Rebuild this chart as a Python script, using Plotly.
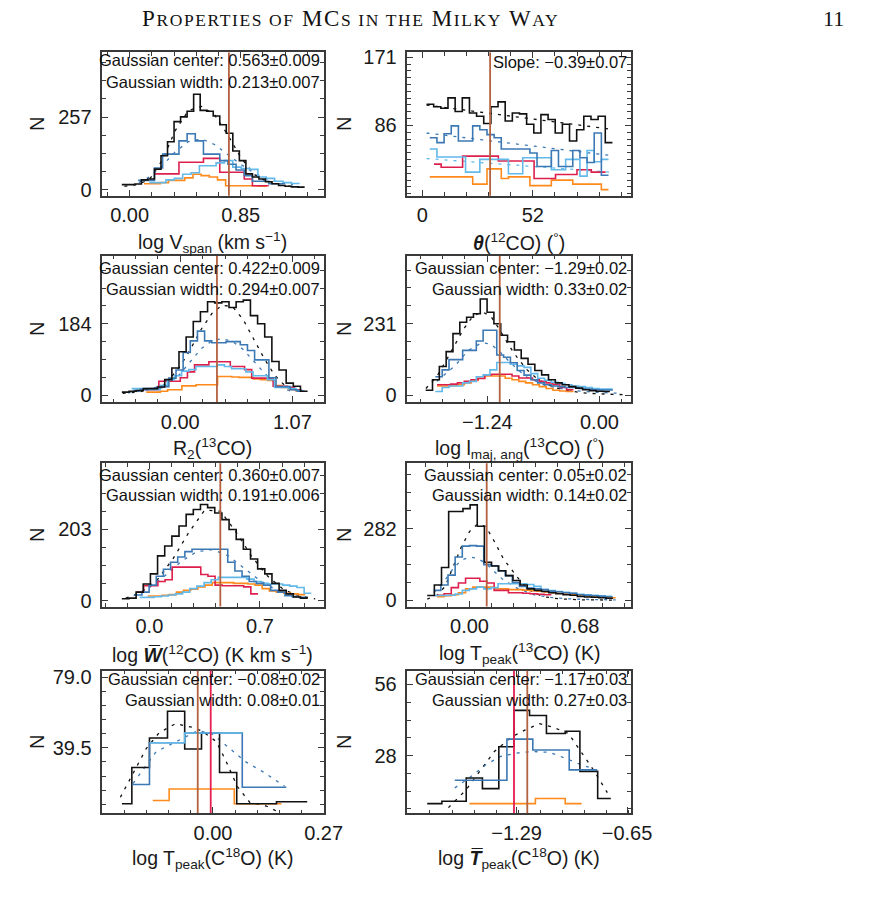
import numpy as np
import plotly.graph_objects as go

# ===================== DATA =====================
# ---- Panel 1: log V_span ----
VSPAN_BLACK_START, VSPAN_BLACK_BIN = -0.06, 0.05
VSPAN_BLACK = [18, 18, 20, 35, 38, 73, 120, 170, 241, 258, 278, 338, 281, 278, 261, 230, 200, 137, 103, 56, 45, 38, 28, 21, 15, 12, 10, 9]
VSPAN_BLUE_START, VSPAN_BLUE_BIN = 0.065, 0.0625
VSPAN_BLUE = [33, 33, 77, 126, 126, 173, 198, 173, 126, 126, 103, 90, 70, 50, 30, 30, 21, 21]
VSPAN_LBLUE_START, VSPAN_LBLUE_BIN = 0.15, 0.064
VSPAN_LBLUE = [25, 25, 35, 40, 55, 60, 85, 85, 95, 103, 80, 75, 72, 45, 40, 30, 25, 22]
VSPAN_RED_START, VSPAN_RED_BIN = 0.19, 0.0625
VSPAN_RED = [56, 56, 56, 97, 97, 97, 111, 111, 62, 62, 62, 38, 14, 14]
VSPAN_ORANGE_START, VSPAN_ORANGE_BIN = 0.11, 0.0625
VSPAN_ORANGE = [21, 21, 25, 33, 33, 42, 55, 50, 45, 35, 14, 14, 14, 14, 12]
VSPAN_FIT_X = [-0.04, 0.05, 0.15, 0.25, 0.35, 0.45, 0.55, 0.65, 0.75, 0.85, 0.95, 1.05, 1.15, 1.3]
VSPAN_FIT_Y = [12, 18, 35, 105, 210, 280, 295, 265, 195, 115, 55, 28, 16, 8]
VSPAN_BFIT_X = [0.07, 0.15, 0.25, 0.35, 0.45, 0.55, 0.65, 0.75, 0.85, 0.95, 1.05, 1.15, 1.25]
VSPAN_BFIT_Y = [25, 45, 85, 135, 170, 180, 160, 125, 90, 60, 38, 25, 18]
VSPAN_MARK = 0.76

# ---- Panel 2: theta(12CO) ----
THETA_BLACK_START, THETA_BIN = 1.99, 3.363
THETA_BLACK = [112, 109, 107, 120, 103, 120, 101, 97, 88, 109, 115, 91, 101, 100, 87, 76, 99, 93, 76, 87, 66, 80, 97, 93, 97, 64]
THETA_COLOR_START = 3.52
THETA_BLUE = [70, 64, 75, 85, 66, 66, 85, 80, 74, 70, 56, 56, 56, 56, 51, 34, 34, 54, 34, 34, 54, 45, 39, 76, 23]
THETA_LBLUE = [56, 46, 46, 46, 46, 27, 27, 43, 43, 43, 43, 25, 25, 45, 45, 45, 45, 30, 30, 43, 43, 22, 54, 40, 43]
THETA_ORANGE = [21, 21, 21, 21, 21, 21, 12, 12, 31, 31, 19, 21, 21, 21, 10, 10, 10, 17, 17, 17, 12, 12, 12, 12, 5]
THETA_RED_START = 5.50
THETA_RED = [37, 33, 33, 33, 47, 47, 47, 47, 47, 41, 41, 41, 41, 41, 19, 19, 19, 24, 24, 24, 30, 30, 27, 27]
THETA_FIT_X, THETA_FIT_Y = [2, 88], [111, 81]
THETA_BFIT_X, THETA_BFIT_Y = [2, 88], [76, 48]
THETA_LFIT_X, THETA_LFIT_Y = [2, 88], [44, 27]
THETA_MARK = 31.9

# ---- Panel 3: R2(13CO) ----
R2_BLACK_START, R2_BIN = -0.558, 0.0682
R2_BLACK = [8, 10, 12, 17, 17, 21, 40, 70, 112, 150, 190, 215, 241, 238, 241, 226, 241, 245, 205, 184, 150, 87, 65, 31, 23, 10]
R2_BLUE_START = -0.450
R2_BLUE = [12, 15, 17, 19, 22, 44, 65, 110, 140, 165, 140, 135, 135, 138, 138, 130, 115, 91, 91, 45, 22, 22, 14, 10]
R2_LBLUE_START = -0.465
R2_LBLUE = [17, 17, 14, 14, 25, 40, 50, 62, 66, 74, 74, 74, 78, 74, 68, 68, 60, 50, 50, 40, 20, 20, 17, 12]
R2_RED_START = -0.341
R2_RED = [14, 14, 36, 36, 36, 45, 60, 78, 78, 86, 86, 86, 74, 74, 66, 44, 44, 44, 23, 23, 20, 14]
R2_ORANGE_START = -0.326
R2_ORANGE = [8, 8, 10, 14, 14, 24, 24, 27, 27, 27, 48, 48, 47, 46, 46, 42, 40, 38, 25, 20, 15, 10]
R2_FIT_X = [-0.55, -0.4, -0.3, -0.2, -0.1, 0.0, 0.1, 0.2, 0.3, 0.4, 0.5, 0.6, 0.7, 0.8, 0.9, 1.0, 1.1]
R2_FIT_Y = [5, 8, 14, 24, 42, 75, 120, 170, 210, 232, 228, 195, 145, 95, 52, 24, 10]
R2_BFIT_X = [-0.5, -0.3, -0.1, 0.0, 0.1, 0.2, 0.3, 0.4, 0.5, 0.6, 0.7, 0.8, 0.9, 1.0, 1.1]
R2_BFIT_Y = [6, 14, 32, 55, 88, 120, 140, 146, 138, 118, 88, 58, 32, 15, 7]
R2_MARK = 0.35

# ---- Panel 4: log l_maj,ang(13CO) ----
LMAJ_BLACK_START, LMAJ_BIN = -1.922, 0.07546
LMAJ_BLACK = [16, 50, 93, 141, 199, 236, 252, 263, 311, 268, 231, 194, 173, 146, 119, 100, 80, 66, 50, 40, 34, 28, 23, 18, 15, 13, 12]
LMAJ_BLUE_START = -1.815
LMAJ_BLUE = [60, 82, 115, 115, 145, 145, 175, 210, 210, 130, 123, 105, 80, 65, 50, 40, 34, 30, 28, 25, 25, 22, 20, 18, 17, 17]
LMAJ_LBLUE = [12, 25, 30, 30, 40, 45, 60, 66, 82, 106, 106, 100, 95, 90, 70, 55, 48, 42, 38, 34, 30, 28, 25, 22, 20, 20]
LMAJ_RED_START = -1.797
LMAJ_RED = [34, 34, 36, 40, 45, 50, 54, 66, 68, 68, 68, 62, 56, 56, 50, 45, 40, 34, 25, 18]
LMAJ_ORANGE = [30, 30, 32, 34, 40, 48, 55, 62, 62, 62, 55, 50, 45, 40, 34, 28, 22, 16, 14, 12]
LMAJ_FIT_X = [-1.92, -1.8, -1.7, -1.6, -1.5, -1.4, -1.3, -1.2, -1.1, -1.0, -0.9, -0.8, -0.7, -0.6, -0.5, -0.4, -0.3, -0.2, -0.1, 0.0, 0.15, 0.3]
LMAJ_FIT_Y = [22, 60, 110, 165, 215, 255, 270, 255, 210, 160, 118, 82, 56, 38, 26, 18, 12, 8, 6, 4, 3, 2]
LMAJ_BFIT_X = [-1.8, -1.6, -1.45, -1.3, -1.2, -1.1, -1.0, -0.9, -0.8, -0.6, -0.4, -0.2, 0.0, 0.25]
LMAJ_BFIT_Y = [45, 95, 145, 170, 165, 140, 110, 82, 58, 32, 20, 13, 9, 6]
LMAJ_MARK = -1.103

# ---- Panel 5: log W(12CO) ----
W12_BLACK_START, W12_BIN = -0.1747, 0.04527
W12_BLACK = [6, 8, 25, 48, 77, 128, 156, 184, 213, 246, 260, 274, 265, 250, 231, 203, 175, 147, 119, 91, 77, 50, 30, 20, 11, 8]
W12_BLUE_START = -0.0924
W12_BLUE = [17, 25, 45, 70, 90, 110, 125, 140, 147, 147, 147, 147, 147, 110, 85, 70, 55, 50, 45, 30, 25, 15, 12, 10]
W12_LBLUE_START = -0.0615
W12_LBLUE = [10, 10, 12, 14, 17, 20, 25, 35, 42, 52, 60, 67, 67, 67, 67, 62, 55, 50, 48, 48, 45, 42, 38, 22]
W12_RED_START = -0.0821
W12_RED = [25, 43, 43, 55, 60, 96, 96, 96, 96, 75, 70, 45, 43, 43, 43, 40, 20]
W12_ORANGE_START = -0.0101
W12_ORANGE = [14, 14, 16, 18, 25, 30, 33, 40, 45, 52, 52, 52, 50, 50, 48, 45, 35, 28, 25, 22, 20, 18]
W12_FIT_X = [-0.15, -0.05, 0.05, 0.15, 0.25, 0.35, 0.45, 0.55, 0.65, 0.75, 0.85, 0.95, 1.05]
W12_FIT_Y = [8, 25, 60, 120, 195, 258, 255, 195, 125, 70, 32, 14, 6]
W12_BFIT_X = [-0.1, 0.0, 0.1, 0.2, 0.3, 0.4, 0.5, 0.6, 0.7, 0.8, 0.9, 1.0]
W12_BFIT_Y = [15, 38, 72, 112, 140, 146, 128, 92, 58, 32, 16, 8]
W12_MARK = 0.449

# ---- Panel 6: log T_peak(13CO) ----
T13_BLACK_START, T13_BIN = -0.2602, 0.044
T13_BLACK = [19, 60, 129, 349, 349, 360, 375, 291, 149, 135, 116, 97, 78, 60, 45, 39, 35, 30, 26, 22, 20, 15, 13, 12, 10, 8]
T13_BLUE_START = -0.2202
T13_BLUE = [39, 60, 99, 170, 213, 215, 213, 140, 136, 115, 97, 70, 55, 48, 45, 42, 36, 34, 30, 28, 22, 20, 18, 16, 14]
T13_LBLUE = [19, 19, 20, 25, 39, 45, 52, 45, 50, 65, 65, 65, 65, 62, 55, 42, 38, 35, 32, 28, 24, 22, 20, 18, 16]
T13_RED_START = -0.2002
T13_RED = [20, 26, 50, 68, 87, 87, 75, 68, 39, 39, 30, 30, 28, 26, 24, 22]
T13_ORANGE = [14, 18, 22, 30, 45, 52, 52, 52, 45, 45, 42, 42, 40, 38, 36, 33, 30, 28, 25, 22, 18, 16, 14, 12, 10]
T13_FIT_X = [-0.26, -0.2, -0.15, -0.1, -0.05, 0.0, 0.05, 0.1, 0.15, 0.21, 0.27, 0.32, 0.37, 0.45, 0.55, 0.7, 0.9]
T13_FIT_Y = [5, 20, 55, 130, 210, 270, 300, 290, 235, 162, 110, 70, 40, 15, 6, 2, 1]
T13_BFIT_X = [-0.22, -0.15, -0.1, -0.05, 0.0, 0.05, 0.1, 0.15, 0.2, 0.3, 0.4, 0.5, 0.6, 0.75, 0.9]
T13_BFIT_Y = [30, 80, 125, 158, 170, 165, 145, 115, 85, 45, 22, 12, 6, 3, 2]
T13_MARK = 0.106

# ---- Panel 7: log T_peak(C18O) ----
T18_BLACK_EDGES = [-0.222, -0.198, -0.155, -0.111, -0.069, -0.028, 0.016, 0.058, 0.101, 0.155, 0.230]
T18_BLACK = [8.3, 28.5, 45, 59.9, 38.8, 47.8, 25.7, 8.3, 8.3, 9.4]
T18_BLUE_EDGES = [-0.198, -0.155, -0.069, 0.0715, 0.179]
T18_BLUE = [19, 42.3, 47.8, 17.5]
T18_LBLUE_EDGES = [-0.155, -0.069, 0.0715]
T18_LBLUE = [42.3, 47.8]
T18_ORANGE_EDGES = [-0.147, -0.107, 0.052, 0.167]
T18_ORANGE = [10.1, 16.5, 8.3]
T18_FIT_X = [-0.226, -0.195, -0.163, -0.131, -0.091, -0.052, -0.028, 0.008, 0.032, 0.059, 0.09, 0.13, 0.155]
T18_FIT_Y = [11.9, 25, 39, 48, 53, 51, 49, 43, 32, 18, 9, 7, 4.2]
T18_BFIT_X = [-0.195, -0.139, -0.083, -0.036, 0.0, 0.032, 0.079, 0.127, 0.175]
T18_BFIT_Y = [19.6, 37.3, 43.7, 49.2, 47, 40.8, 31.8, 25.4, 18]
T18_MARK = -0.0372
T18_MARK2 = -0.0055

# ---- Panel 8: log mean T_peak(C18O) ----
TB18_BLACK_EDGES = [-1.808, -1.723, -1.582, -1.488, -1.393, -1.305, -1.215, -1.117, -1.008, -0.923, -0.820, -0.744]
TB18_BLACK = [9.1, 10.0, 19.2, 15.0, 31.5, 45.8, 43.8, 36.7, 37.6, 21.8, 11.1]
TB18_BLUE_EDGES = [-1.648, -1.346, -1.196, -0.985, -0.823]
TB18_BLUE = [18.3, 34.5, 30.2, 22.4]
TB18_ORANGE_EDGES = [-1.563, -1.181, -1.008, -0.913]
TB18_ORANGE = [9.1, 11.1, 9.1]
TB18_FIT_X = [-1.685, -1.582, -1.504, -1.419, -1.318, -1.243, -1.158, -1.083, -0.989, -0.914, -0.839, -0.764]
TB18_FIT_Y = [7.5, 14.6, 21.8, 29.6, 35.4, 38, 40.6, 39.3, 36.7, 29, 21.8, 13.4]
TB18_BFIT_X = [-1.648, -1.554, -1.47, -1.385, -1.29, -1.196, -1.1, -1.008, -0.913, -0.839]
TB18_BFIT_Y = [15.3, 19.8, 24.3, 27.6, 29, 29.6, 29.3, 27, 24.3, 22.8]
TB18_MARK = -1.228
TB18_MARK2 = -1.305

# ---- tick labels / texts ----
X_TICKS = [([0.0, 0.85], ["0.00", "0.85"]), ([0, 52], ["0", "52"]),
           ([0.0, 1.07], ["0.00", "1.07"]), ([-1.24, 0.0], ["\u22121.24", "0.00"]),
           ([0.0, 0.7], ["0.0", "0.7"]), ([0.0, 0.68], ["0.00", "0.68"]),
           ([0.0, 0.27], ["0.00", "0.27"]), ([-1.29, -0.65], ["\u22121.29", "\u22120.65"])]
Y_TICKS = [([0, 257], ["0", "257"]), ([86, 171], ["86", "171"]),
           ([0, 184], ["0", "184"]), ([0, 231], ["0", "231"]),
           ([0, 203], ["0", "203"]), ([0, 282], ["0", "282"]),
           ([39.5, 79.0], ["39.5", "79.0"]), ([28, 56], ["28", "56"])]
X_TITLES = ["log V<sub>span</sub> (km s<sup>\u22121</sup>)",
            "<b><i>\u03b8</i></b>(<sup>12</sup>CO) (<sup>\u00b0</sup>)",
            "R<sub>2</sub>(<sup>13</sup>CO)",
            "log l<sub>maj, ang</sub>(<sup>13</sup>CO) (<sup>\u00b0</sup>)",
            "log <b><i>W\u0305</i></b>(<sup>12</sup>CO) (K km s<sup>\u22121</sup>)",
            "log T<sub>peak</sub>(<sup>13</sup>CO) (K)",
            "log T<sub>peak</sub>(C<sup>18</sup>O) (K)",
            "log <b><i>T\u0305</i></b><sub>peak</sub>(C<sup>18</sup>O) (K)"]
STATS = [["Gaussian center: 0.563\u00b10.009", "Gaussian width: 0.213\u00b10.007"],
         ["Slope: \u22120.39\u00b10.07"],
         ["Gaussian center: 0.422\u00b10.009", "Gaussian width: 0.294\u00b10.007"],
         ["Gaussian center: \u22121.29\u00b10.02", "Gaussian width: 0.33\u00b10.02"],
         ["Gaussian center: 0.360\u00b10.007", "Gaussian width: 0.191\u00b10.006"],
         ["Gaussian center: 0.05\u00b10.02", "Gaussian width: 0.14\u00b10.02"],
         ["Gaussian center: \u22120.08\u00b10.02", "Gaussian width: 0.08\u00b10.01"],
         ["Gaussian center: \u22121.17\u00b10.03", "Gaussian width: 0.27\u00b10.03"]]

# ===================== STYLE / LAYOUT =====================
W, H = 870, 899
BLACK, BLUE, LBLUE, RED, ORANGE = "#111111", "#3c79b4", "#62b9ea", "#dd1f4c", "#ff8a1c"
BROWN, CRIMSON = "#b3613f", "#e61e50"
FONT = "Liberation Sans"

COLS = [(105, 332), (418, 647)]
ROWS = [(47, 192), (253, 401), (463, 608), (673, 817)]
TITLE_Y = [239, 448, 656, 863]
STAT_Y = [(55, 77), (265, 287), (475, 495), (681, 703)]
X_RANGES = [(-0.209, 1.485), (-7.0, 98.0), (-0.744, 1.368), (-2.124, 0.345),
            (-0.298, 1.103), (-0.382, 0.992), (-0.27, 0.27), (-1.9226, -0.629)]
Y_RANGES = [(-21, 486), (-2.5, 177), (-17.8, 359), (-22, 450),
            (-16, 391), (-24.4, 538), (3.1, 82.5), (5.4, 61.4)]
X_MINOR = [0.17, 10.4, 0.214, 0.248, 0.14, 0.136, 0.054, 0.128]
Y_MINOR = [64.25, 8.55, 46, 57.75, 50.75, 70.5, 7.9, 7.0]


def grid(start, width, n):
    return [start + i * width for i in range(n + 1)]


def px(xp):
    return xp / W


def py(yp):
    return 1 - yp / H


fig = go.Figure()


def ax_names(i):
    s = "" if i == 0 else str(i + 1)
    return "x" + s, "y" + s


def add_hist(i, edges, counts, color, width=1.6):
    xa, ya = ax_names(i)
    fig.add_trace(go.Scatter(x=list(edges), y=list(counts) + [counts[-1]], mode="lines",
                             line=dict(color=color, width=width, shape="hv"),
                             xaxis=xa, yaxis=ya, showlegend=False, hoverinfo="skip"))


def add_dash(i, xs, ys, color):
    xa, ya = ax_names(i)
    fig.add_trace(go.Scatter(x=xs, y=ys, mode="lines",
                             line=dict(color=color, width=1.3, dash="3px,6px"),
                             xaxis=xa, yaxis=ya, showlegend=False, hoverinfo="skip"))


def add_mark(i, xv, color):
    xa, ya = ax_names(i)
    fig.add_shape(type="line", xref=xa, yref=ya + " domain", x0=xv, x1=xv, y0=0, y1=1,
                  line=dict(color=color, width=1.8), layer="above")


# ---- Panel 1
add_dash(0, VSPAN_FIT_X, VSPAN_FIT_Y, BLACK)
add_dash(0, VSPAN_BFIT_X, VSPAN_BFIT_Y, BLUE)
add_hist(0, grid(VSPAN_ORANGE_START, VSPAN_ORANGE_BIN, len(VSPAN_ORANGE)), VSPAN_ORANGE, ORANGE)
add_hist(0, grid(VSPAN_RED_START, VSPAN_RED_BIN, len(VSPAN_RED)), VSPAN_RED, RED)
add_hist(0, grid(VSPAN_LBLUE_START, VSPAN_LBLUE_BIN, len(VSPAN_LBLUE)), VSPAN_LBLUE, LBLUE)
add_hist(0, grid(VSPAN_BLUE_START, VSPAN_BLUE_BIN, len(VSPAN_BLUE)), VSPAN_BLUE, BLUE)
add_hist(0, grid(VSPAN_BLACK_START, VSPAN_BLACK_BIN, len(VSPAN_BLACK)), VSPAN_BLACK, BLACK)
add_mark(0, VSPAN_MARK, BROWN)

# ---- Panel 2
add_dash(1, THETA_FIT_X, THETA_FIT_Y, BLACK)
add_dash(1, THETA_BFIT_X, THETA_BFIT_Y, BLUE)
add_dash(1, THETA_LFIT_X, THETA_LFIT_Y, LBLUE)
add_hist(1, grid(THETA_COLOR_START, THETA_BIN, len(THETA_ORANGE)), THETA_ORANGE, ORANGE)
add_hist(1, grid(THETA_RED_START, THETA_BIN, len(THETA_RED)), THETA_RED, RED)
add_hist(1, grid(THETA_COLOR_START, THETA_BIN, len(THETA_LBLUE)), THETA_LBLUE, LBLUE)
add_hist(1, grid(THETA_COLOR_START, THETA_BIN, len(THETA_BLUE)), THETA_BLUE, BLUE)
add_hist(1, grid(THETA_BLACK_START, THETA_BIN, len(THETA_BLACK)), THETA_BLACK, BLACK)
add_mark(1, THETA_MARK, BROWN)

# ---- Panel 3
add_dash(2, R2_FIT_X, R2_FIT_Y, BLACK)
add_dash(2, R2_BFIT_X, R2_BFIT_Y, BLUE)
add_hist(2, grid(R2_ORANGE_START, R2_BIN, len(R2_ORANGE)), R2_ORANGE, ORANGE)
add_hist(2, grid(R2_RED_START, R2_BIN, len(R2_RED)), R2_RED, RED)
add_hist(2, grid(R2_LBLUE_START, R2_BIN, len(R2_LBLUE)), R2_LBLUE, LBLUE)
add_hist(2, grid(R2_BLUE_START, R2_BIN, len(R2_BLUE)), R2_BLUE, BLUE)
add_hist(2, grid(R2_BLACK_START, R2_BIN, len(R2_BLACK)), R2_BLACK, BLACK)
add_mark(2, R2_MARK, BROWN)

# ---- Panel 4
add_dash(3, LMAJ_FIT_X, LMAJ_FIT_Y, BLACK)
add_dash(3, LMAJ_BFIT_X, LMAJ_BFIT_Y, BLUE)
add_hist(3, grid(LMAJ_RED_START, LMAJ_BIN, len(LMAJ_ORANGE)), LMAJ_ORANGE, ORANGE)
add_hist(3, grid(LMAJ_RED_START, LMAJ_BIN, len(LMAJ_RED)), LMAJ_RED, RED)
add_hist(3, grid(LMAJ_BLUE_START, LMAJ_BIN, len(LMAJ_LBLUE)), LMAJ_LBLUE, LBLUE)
add_hist(3, grid(LMAJ_BLUE_START, LMAJ_BIN, len(LMAJ_BLUE)), LMAJ_BLUE, BLUE)
add_hist(3, grid(LMAJ_BLACK_START, LMAJ_BIN, len(LMAJ_BLACK)), LMAJ_BLACK, BLACK)
add_mark(3, LMAJ_MARK, BROWN)

# ---- Panel 5
add_dash(4, W12_FIT_X, W12_FIT_Y, BLACK)
add_dash(4, W12_BFIT_X, W12_BFIT_Y, BLUE)
add_hist(4, grid(W12_ORANGE_START, W12_BIN, len(W12_ORANGE)), W12_ORANGE, ORANGE)
add_hist(4, grid(W12_RED_START, W12_BIN, len(W12_RED)), W12_RED, RED)
add_hist(4, grid(W12_LBLUE_START, W12_BIN, len(W12_LBLUE)), W12_LBLUE, LBLUE)
add_hist(4, grid(W12_BLUE_START, W12_BIN, len(W12_BLUE)), W12_BLUE, BLUE)
add_hist(4, grid(W12_BLACK_START, W12_BIN, len(W12_BLACK)), W12_BLACK, BLACK)
add_mark(4, W12_MARK, BROWN)

# ---- Panel 6
add_dash(5, T13_FIT_X, T13_FIT_Y, BLACK)
add_dash(5, T13_BFIT_X, T13_BFIT_Y, BLUE)
add_hist(5, grid(T13_RED_START, T13_BIN, len(T13_ORANGE)), T13_ORANGE, ORANGE)
add_hist(5, grid(T13_RED_START, T13_BIN, len(T13_RED)), T13_RED, RED)
add_hist(5, grid(T13_BLUE_START, T13_BIN, len(T13_LBLUE)), T13_LBLUE, LBLUE)
add_hist(5, grid(T13_BLUE_START, T13_BIN, len(T13_BLUE)), T13_BLUE, BLUE)
add_hist(5, grid(T13_BLACK_START, T13_BIN, len(T13_BLACK)), T13_BLACK, BLACK)
add_mark(5, T13_MARK, BROWN)

# ---- Panel 7
add_dash(6, T18_FIT_X, T18_FIT_Y, BLACK)
add_dash(6, T18_BFIT_X, T18_BFIT_Y, BLUE)
add_hist(6, T18_ORANGE_EDGES, T18_ORANGE, ORANGE)
add_hist(6, T18_BLACK_EDGES, T18_BLACK, BLACK)
add_hist(6, T18_BLUE_EDGES, T18_BLUE, BLUE)
add_hist(6, T18_LBLUE_EDGES, T18_LBLUE, LBLUE)
add_mark(6, T18_MARK, BROWN)
add_mark(6, T18_MARK2, CRIMSON)

# ---- Panel 8
add_dash(7, TB18_FIT_X, TB18_FIT_Y, BLACK)
add_dash(7, TB18_BFIT_X, TB18_BFIT_Y, BLUE)
add_hist(7, TB18_ORANGE_EDGES, TB18_ORANGE, ORANGE)
add_hist(7, TB18_BLACK_EDGES, TB18_BLACK, BLACK)
add_hist(7, TB18_BLUE_EDGES, TB18_BLUE, BLUE)
add_mark(7, TB18_MARK2, CRIMSON)
add_mark(7, TB18_MARK, BROWN)

# ---- axes
layout = {}
annotations = []
for i in range(8):
    row, col = divmod(i, 2)
    L, R = COLS[col]
    T, B = ROWS[row]
    xa, ya = ax_names(i)
    xr, yr = X_RANGES[i], Y_RANGES[i]
    xmin = np.arange(np.ceil(xr[0] / X_MINOR[i]) * X_MINOR[i], xr[1], X_MINOR[i])
    ymin = np.arange(np.ceil(yr[0] / Y_MINOR[i]) * Y_MINOR[i], yr[1], Y_MINOR[i])
    common = dict(showline=True, mirror="allticks", linecolor="#3a3a3a", linewidth=1.5,
                  ticks="inside", ticklen=6, tickwidth=1, tickcolor="#3a3a3a",
                  showgrid=False, zeroline=False, tickmode="array",
                  tickfont=dict(family=FONT, size=20, color="#1a1a1a"), fixedrange=True)
    layout["xaxis" + xa[1:]] = dict(
        common, domain=[px(L), px(R)], range=list(xr), anchor=ya,
        tickvals=X_TICKS[i][0], ticktext=X_TICKS[i][1], ticklabelstandoff=1,
        minor=dict(ticks="inside", ticklen=3.5, tickcolor="#3a3a3a", tickmode="array",
                   tickvals=[round(v, 6) for v in xmin]))
    layout["yaxis" + ya[1:]] = dict(
        common, domain=[py(B), py(T)], range=list(yr), anchor=xa,
        tickvals=Y_TICKS[i][0], ticktext=Y_TICKS[i][1], ticklabelstandoff=5,
        minor=dict(ticks="inside", ticklen=3.5, tickcolor="#3a3a3a", tickmode="array",
                   tickvals=[round(v, 6) for v in ymin]))
    annotations.append(dict(text=X_TITLES[i], x=px((L + R) / 2), y=py(TITLE_Y[row]),
                            xref="paper", yref="paper", xanchor="center", yanchor="middle",
                            showarrow=False, font=dict(family=FONT, size=19.5, color="#1a1a1a")))
    annotations.append(dict(text="N", x=px(38 if col == 0 else 353), y=py((T + B) / 2),
                            xref="paper", yref="paper", xanchor="center", yanchor="middle",
                            textangle=-90, showarrow=False,
                            font=dict(family=FONT, size=20, color="#1a1a1a")))
    for k, s in enumerate(STATS[i]):
        annotations.append(dict(text=s, x=px(R - 2), y=py(STAT_Y[row][k] + (2 if i == 1 else 0)),
                                xref="paper", yref="paper", xanchor="right", yanchor="middle",
                                showarrow=False, font=dict(family=FONT, size=16.5, color="#111")))

SC = "<span style='font-size:17.5px'>"
header = ("<span style='letter-spacing:1.6px'>P" + SC + "ROPERTIES OF</span> MC" + SC
          + "S IN THE</span> M" + SC + "ILKY</span> W" + SC + "AY</span></span>")
annotations.append(dict(text=header, x=px(360), y=py(13), xref="paper", yref="paper",
                        xanchor="center", yanchor="middle", showarrow=False,
                        font=dict(family="Liberation Serif", size=23, color="#111")))
annotations.append(dict(text="11", x=px(855), y=py(13), xref="paper", yref="paper",
                        xanchor="center", yanchor="middle", showarrow=False,
                        font=dict(family="Liberation Serif", size=22, color="#111")))

fig.update_layout(**layout)
fig.update_layout(width=W, height=H, autosize=False, margin=dict(l=0, r=0, t=0, b=0),
                  paper_bgcolor="white", plot_bgcolor="white", annotations=annotations,
                  showlegend=False)
POST = ("document.documentElement.style.overflow='hidden';"
        "document.body.style.margin='0';document.body.style.overflow='hidden';"
        "var gd=document.getElementById('{plot_id}');"
        "gd.style.width='870px';gd.style.height='899px';"
        "Plotly.relayout(gd,{width:870,height:899});")
fig.write_html("out.html", config={"displayModeBar": False, "responsive": False},
               post_script=POST)
